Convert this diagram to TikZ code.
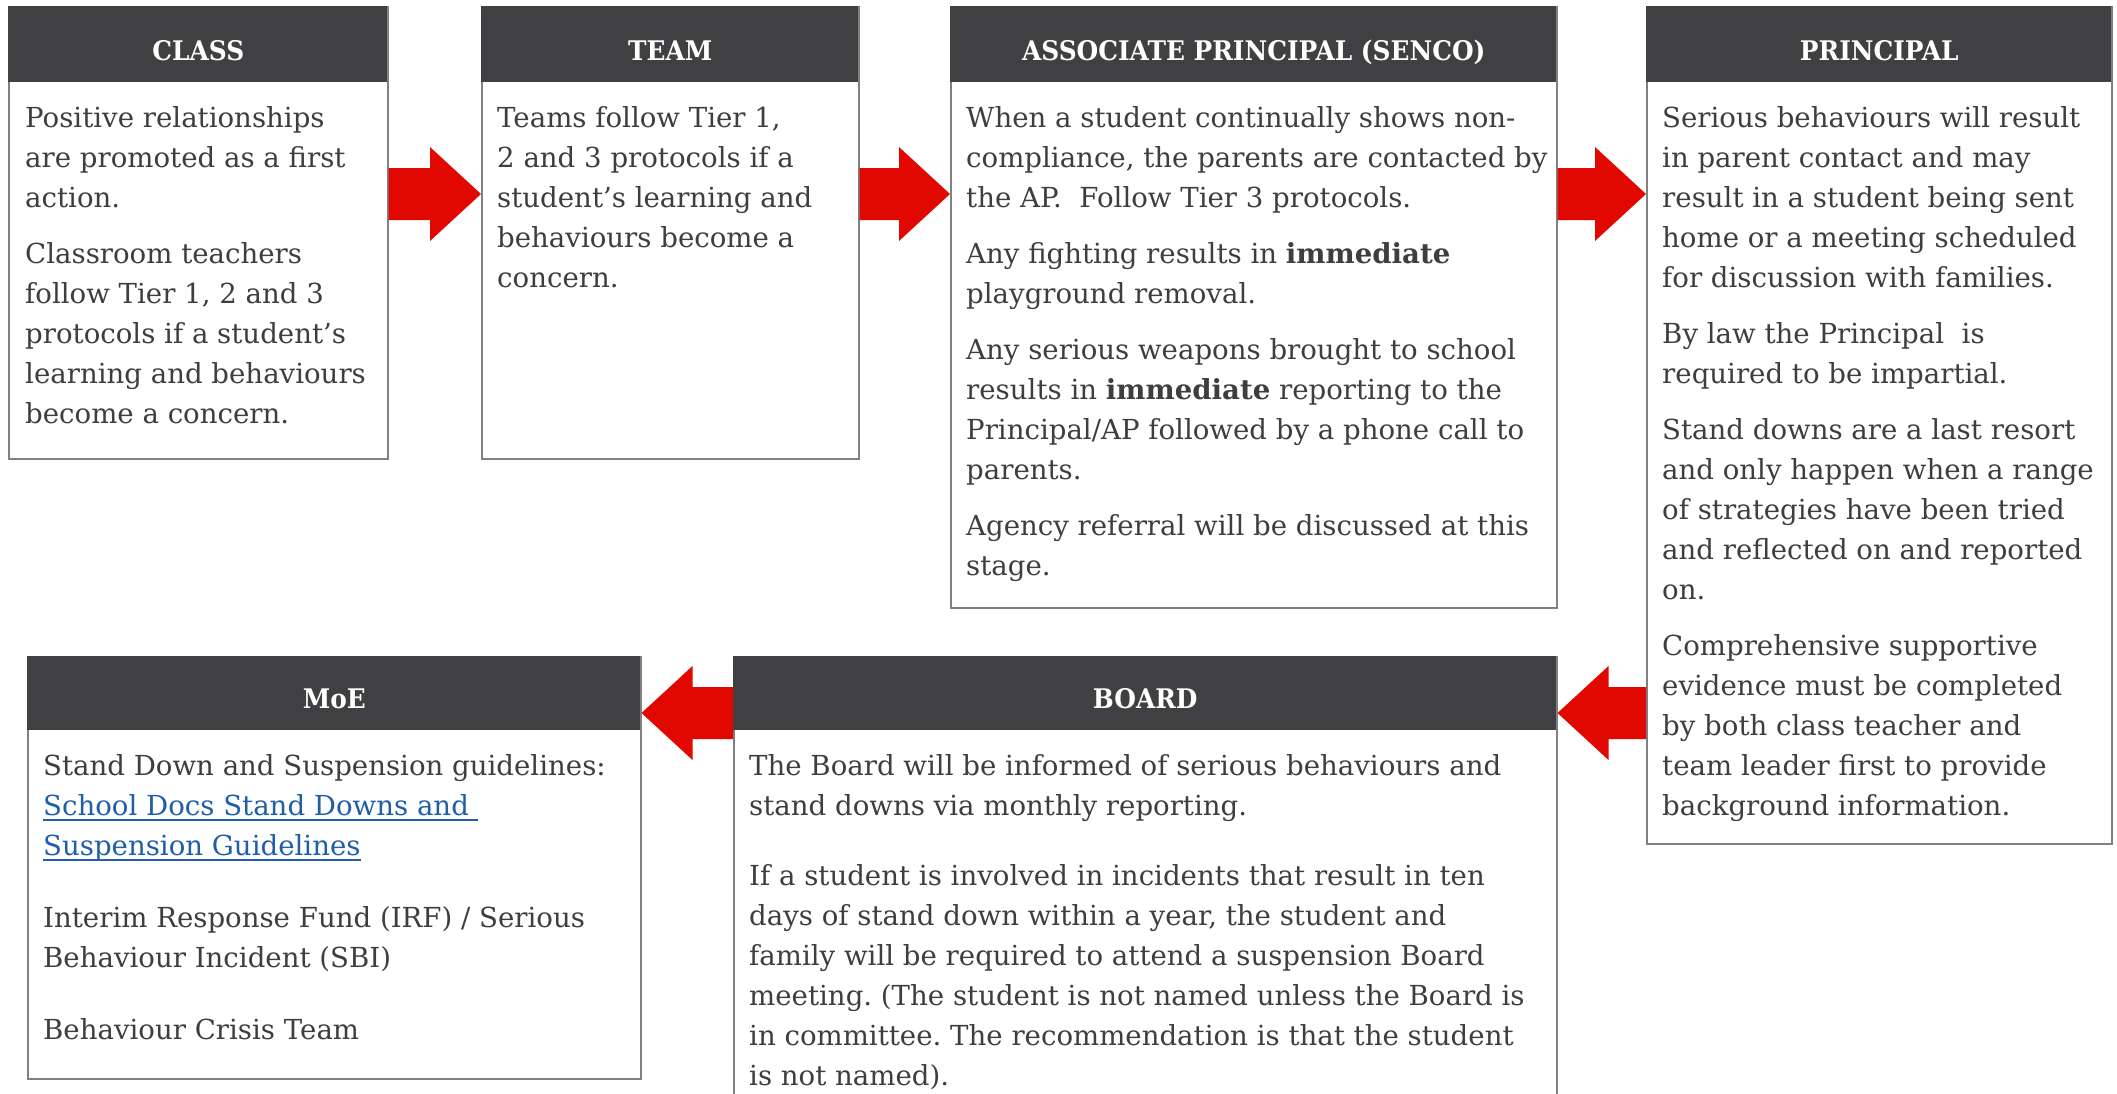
\documentclass[tikz,border=0pt]{standalone}
\usepackage{fontspec}
\setmainfont{DejaVu Serif}
\newfontfamily\titleface[FakeStretch=0.92]{DejaVu Serif}
\usetikzlibrary{calc}

\definecolor{headgray}{HTML}{404042}
\definecolor{bodygray}{HTML}{3E3E3E}
\definecolor{framegray}{HTML}{808080}
\definecolor{flowred}{HTML}{E00800}
\definecolor{linkblue}{HTML}{1F5FA8}

% body and title type
\newcommand\bodyfont{\fontsize{27.6}{40}\selectfont}
\newcommand\titlefont{\titleface\fontsize{27}{32}\selectfont\bfseries}

% paragraph block whose baseline is the first line's baseline
\newcommand\textblock[2]{\vtop{\hsize=900pt\parindent=0pt\parskip=#1\baselineskip=40pt
  \leftskip=0pt\rightskip=0pt plus 1fil\frenchspacing\relax #2\par}}

% underlined hyperlink text
\newcommand\weblink[1]{\setbox0=\hbox{#1}\rlap{\color{linkblue}\rule[-6pt]{\wd0}{1.8pt}}{\color{linkblue}\box0}}

% block arrow from a start point to a tip point on the same level
\newcommand\flowarrow[2]{%
  \fill[flowred] let \p1=(#1), \p2=(#2), \n1={sign(\x2-\x1)} in
    (\x1,\y1+26pt) -- (\x2-\n1*51pt,\y1+26pt) -- (\x2-\n1*51pt,\y1+47pt)
    -- (\x2,\y1) -- (\x2-\n1*51pt,\y1-47pt) -- (\x2-\n1*51pt,\y1-26pt)
    -- (\x1,\y1-26pt) -- cycle;}

\tikzset{
  panel/.style={draw=framegray, line width=1.5pt, fill=white, inner sep=0pt,
    anchor=north west},
  band/.style={fill=headgray, inner sep=0pt, anchor=north west},
  title/.style={text=white, font=\titlefont, inner sep=0pt, anchor=base},
  bodynode/.style={text=bodygray, font=\bodyfont, inner sep=0pt, anchor=base west}
}

\begin{document}
\begin{tikzpicture}[x=1pt,y=1pt]
\useasboundingbox (0,0) rectangle (2117,-1093);
\clip (0,0) rectangle (2117,-1093);
\fill[white] (0,0) rectangle (2117,-1093);

% ---- panels ----
\node (class) [panel, minimum width=379pt, minimum height=452pt] at (8,-6) {};
\node (team) [panel, minimum width=377pt, minimum height=452pt] at (481,-6) {};
\node (ap) [panel, minimum width=606pt, minimum height=601pt] at (950,-6) {};
\node (principal) [panel, minimum width=465pt, minimum height=837pt] at (1646,-6) {};
\node (moe) [panel, minimum width=613pt, minimum height=422pt] at (27,-656) {};
\node (board) [panel, minimum width=823pt, minimum height=470pt] at (733,-656) {};

% ---- title bands ----
\node (classband) [band, minimum width=379pt, minimum height=76pt] at (class.north west) {};
\node (teamband) [band, minimum width=377pt, minimum height=76pt] at (team.north west) {};
\node (apband) [band, minimum width=606pt, minimum height=76pt] at (ap.north west) {};
\node (principalband) [band, minimum width=465pt, minimum height=76pt] at (principal.north west) {};
\node (moeband) [band, minimum width=613pt, minimum height=74pt] at (moe.north west) {};
\node (boardband) [band, minimum width=823pt, minimum height=74pt] at (board.north west) {};

\node (classtitle) [title] at ([yshift=-54pt]class.north) {CLASS};
\node (teamtitle) [title] at ([yshift=-54pt]team.north) {TEAM};
\node (aptitle) [title] at ([yshift=-54pt]ap.north) {ASSOCIATE PRINCIPAL (SENCO)};
\node (principaltitle) [title] at ([yshift=-54pt]principal.north) {PRINCIPAL};
\node (moetitle) [title] at ([yshift=-52pt]moe.north) {MoE};
\node (boardtitle) [title] at ([yshift=-52pt]board.north) {BOARD};

% ---- panel texts ----
\node (classtext) [bodynode] at ([xshift=17pt,yshift=-121pt]class.north west) {\textblock{16pt}{%
Positive relationships\newline are promoted as a first\newline action.\par
Classroom teachers\newline follow Tier 1, 2 and 3\newline protocols if a student’s\newline
learning and behaviours\newline become a concern.}};

\node (teamtext) [bodynode] at ([xshift=16pt,yshift=-121pt]team.north west) {\textblock{16pt}{%
Teams follow Tier 1,\newline 2 and 3 protocols if a\newline student’s learning and\newline
behaviours become a\newline concern.}};

\node (aptext) [bodynode] at ([xshift=16pt,yshift=-121pt]ap.north west) {\textblock{16pt}{%
When a student continually shows non-\newline compliance, the parents are contacted by\newline
the AP.~ Follow Tier 3 protocols.\par
Any fighting results in \textbf{immediate}\newline playground removal.\par
Any serious weapons brought to school\newline results in \textbf{immediate} reporting to the\newline
Principal/AP followed by a phone call to\newline parents.\par
Agency referral will be discussed at this\newline stage.}};

\node (principaltext) [bodynode] at ([xshift=16pt,yshift=-121pt]principal.north west) {\textblock{16pt}{%
Serious behaviours will result\newline in parent contact and may\newline result in a student being sent\newline
home or a meeting scheduled\newline for discussion with families.\par
By law the Principal~ is\newline required to be impartial.\par
Stand downs are a last resort\newline and only happen when a range\newline of strategies have been tried\newline
and reflected on and reported\newline on.\par
Comprehensive supportive\newline evidence must be completed\newline by both class teacher and\newline
team leader first to provide\newline background information.}};

\node (moetext) [bodynode] at ([xshift=16pt,yshift=-119pt]moe.north west) {\textblock{32pt}{%
Stand Down and Suspension guidelines:\newline
\weblink{School Docs Stand Downs and\ }\newline \weblink{Suspension Guidelines}\par
Interim Response Fund (IRF) / Serious\newline Behaviour Incident (SBI)\par
Behaviour Crisis Team}};

\node (boardtext) [bodynode] at ([xshift=16pt,yshift=-119pt]board.north west) {\textblock{30pt}{%
The Board will be informed of serious behaviours and\newline stand downs via monthly reporting.\par
If a student is involved in incidents that result in ten\newline days of stand down within a year, the student and\newline
family will be required to attend a suspension Board\newline meeting. (The student is not named unless the Board is\newline
in committee. The recommendation is that the student\newline is not named).}};

% ---- flow arrows ----
\flowarrow{[yshift=-188pt]class.north east}{[yshift=-188pt]team.north west}
\flowarrow{[yshift=-188pt]team.north east}{[yshift=-188pt]ap.north west}
\flowarrow{[yshift=-188pt]ap.north east}{[yshift=-188pt]principal.north west}
\flowarrow{[yshift=-707pt]principal.north west}{[yshift=-57pt]board.north east}
\flowarrow{[yshift=-57pt]board.north west}{[yshift=-57pt]moe.north east}
\end{tikzpicture}
\end{document}
